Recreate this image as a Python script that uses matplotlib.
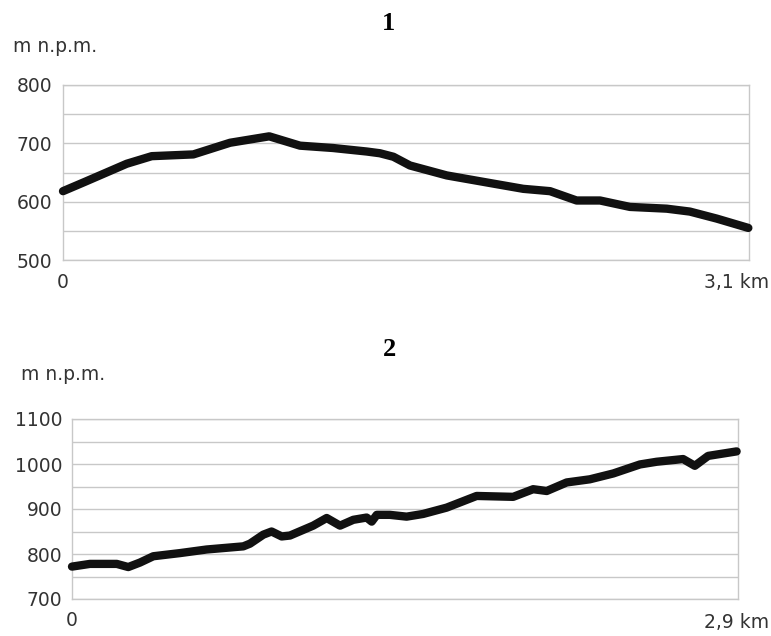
import numpy as np
import matplotlib
matplotlib.use("Agg")
import matplotlib.pyplot as plt

# profile 1 (distance in km, elevation in m a.s.l.)
dist1 = [0.0, 0.099, 0.288, 0.401, 0.589, 0.755, 0.932, 1.071, 1.220, 1.372, 1.432,
         1.493, 1.568, 1.734, 1.944, 2.080, 2.201, 2.321, 2.427, 2.562, 2.728, 2.833,
         2.954, 3.097]
elev1 = [618, 634, 665, 678, 681, 701, 712, 696, 692, 686, 683,
         677, 662, 645, 631, 622, 618, 602, 602, 591, 588, 583,
         571, 555]

# profile 2
dist2 = [0.0, 0.078, 0.195, 0.245, 0.296, 0.354, 0.470, 0.586, 0.746, 0.775, 0.833,
         0.869, 0.913, 0.949, 1.050, 1.109, 1.167, 1.225, 1.283, 1.305, 1.327, 1.384,
         1.457, 1.529, 1.631, 1.762, 1.921, 2.008, 2.067, 2.154, 2.255, 2.357, 2.473,
         2.546, 2.661, 2.712, 2.770, 2.894]
elev2 = [772, 778, 778, 771, 781, 795, 802, 810, 817, 823, 843,
         850, 839, 841, 863, 880, 863, 876, 881, 872, 887, 887,
         883, 889, 903, 929, 927, 944, 940, 959, 966, 979, 999,
         1005, 1011, 996, 1018, 1028]

panels = [
    dict(title="1", dist=dist1, elev=elev1, xmax=3.1, xlabel="3,1 km",
         ylim=(500, 800), ylabels=[500, 600, 700, 800],
         rect=[63/771, 1-260/636, 686/771, 175/636], title_y=1-24/636,
         unit_xy=(13/771, 1-47/636), end_y=1-283/636, ypad=8),
    dict(title="2", dist=dist2, elev=elev2, xmax=2.9, xlabel="2,9 km",
         ylim=(700, 1100), ylabels=[700, 800, 900, 1000, 1100],
         rect=[72/771, 1-599/636, 666/771, 180/636], title_y=1-350/636,
         unit_xy=(21/771, 1-375/636), end_y=1-622/636, ypad=7),
]

fig = plt.figure(figsize=(7.71, 6.36), dpi=100)
font = "DejaVu Sans"
fs = 13.5

for p in panels:
    ax = fig.add_axes(p["rect"])
    ax.plot(p["dist"], p["elev"], color="#111111", lw=6, solid_joinstyle="round",
            solid_capstyle="round", clip_on=False, zorder=3)
    ax.set_xlim(0, p["xmax"])
    ax.set_ylim(*p["ylim"])
    grid = np.arange(p["ylim"][0], p["ylim"][1] + 1, 50)
    ax.set_yticks(grid)
    ax.set_yticklabels([str(v) if v in p["ylabels"] else "" for v in grid],
                       fontname=font, fontsize=fs)
    ax.yaxis.grid(True, color="#c8c8c8", lw=1)
    ax.tick_params(axis="y", length=0, pad=p["ypad"], colors="#333333")
    ax.set_xticks([0])
    ax.set_xticklabels(["0"], fontname=font, fontsize=fs)
    ax.tick_params(axis="x", length=0, pad=9, colors="#333333")
    for s in ax.spines.values():
        s.set_color("#c8c8c8")
        s.set_linewidth(1)
    fig.text(0.997, p["end_y"], p["xlabel"], ha="right", va="center",
             fontname=font, fontsize=fs, color="#333333")
    fig.text(p["unit_xy"][0], p["unit_xy"][1], "m n.p.m.", ha="left", va="center",
             fontname=font, fontsize=13.5, color="#333333")
    fig.text(389/771, p["title_y"], p["title"], ha="center", va="center",
             fontname="Liberation Serif", fontweight="bold", fontsize=19)

fig.savefig("out.png", dpi=100)
